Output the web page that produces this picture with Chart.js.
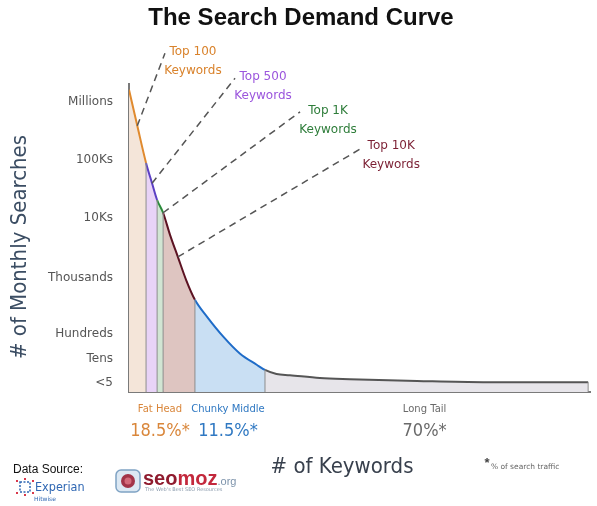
<!DOCTYPE html>
<html lang="en">
<head>
<meta charset="UTF-8">
<title>The Search Demand Curve</title>
<script src="https://cdn.jsdelivr.net/npm/chart.js"></script>
<style>
  body { margin: 0; background: #fff; }
</style>
</head>
<body>
<canvas id="demandChart" width="597" height="506"></canvas>
<script>
// curve: x = place along the keyword axis (0-100), y = search volume level
const curveX = [0, 1.8, 3.7, 5.0, 6.1, 7.4, 8.9, 10.6, 12.4, 14.3, 16.9, 20.5, 24.1, 27.7, 29.5, 32.0, 34.9, 41.4, 47.9, 62.5, 76.8, 99.6];
const curveY = [5.21, 4.59, 3.95, 3.60, 3.31, 3.09, 2.71, 2.33, 1.93, 1.59, 1.30, 0.95, 0.66, 0.47, 0.38, 0.31, 0.29, 0.24, 0.22, 0.19, 0.17, 0.17];

const segmentNames = ['Top 100', 'Top 500', 'Top 1K', 'Top 10K', 'Chunky Middle', 'Long Tail'];
const segmentEnds = [3.7, 6.1, 7.4, 14.3, 29.5, 99.6];
const segmentLine = ['#e08a2e', '#5b3fc4', '#2a8a3a', '#5c1222', '#1f6cc8', '#555555'];
const segmentFill = ['#f4e5d9', '#e8d3f7', '#d1e5d3', '#dec5c1', '#c9dff3', '#e7e5ea'];

const yTickValues = [0.15, 0.57, 1.0, 1.97, 3.0, 4.0, 5.0];
const yTickLabels = ['<5', 'Tens', 'Hundreds', 'Thousands', '10Ks', '100Ks', 'Millions'];

// callouts: anchor is an index into the curve, the leader line ends at the label
const calloutText = ['Top 100', 'Top 500', 'Top 1K', 'Top 10K'];
const calloutAnchor = [1, 3, 5, 7];
const calloutEndX = [7.8, 23.0, 37.1, 50.8];
const calloutEndY = [5.84, 5.41, 4.83, 4.22];
const calloutColor = ['#d9822b', '#9b55dd', '#2e7d3a', '#7b1f33'];

const regionNames = ['Fat Head', 'Chunky Middle', 'Long Tail'];
const regionShare = ['18.5%*', '11.5%*', '70%*'];
const regionEnds = [14.3, 29.5, 99.6];
const regionColor = ['#d9863a', '#2f78c2', '#6a6a6a'];

// which coloured piece a curve segment belongs to
const pieceOf = x => segmentEnds.findIndex(e => x < e - 1e-6);

const datasets = [];

// the whole curve as one smooth line, coloured and filled piece by piece
datasets.push({
    label: 'Search demand',
    data: curveX.map((x, i) => ({ x: x, y: curveY[i] })),
    borderWidth: 2, fill: 'origin', pointRadius: 0,
    cubicInterpolationMode: 'monotone', order: 3,
    borderColor: segmentLine[0], backgroundColor: segmentFill[0],
    segment: {
        borderColor: c => segmentLine[pieceOf(c.p0.parsed.x)],
        backgroundColor: c => segmentFill[pieceOf(c.p0.parsed.x)]
    }
});

// thin gray dividers between the pieces
segmentEnds.forEach(end => {
    const yv = curveY[curveX.indexOf(end)];
    datasets.push({
        data: [{ x: end, y: 0 }, { x: end, y: yv }],
        borderColor: '#8c8c8c', borderWidth: 1, pointRadius: 0, fill: false, order: 2
    });
});

// dashed leader lines
calloutText.forEach((t, i) => {
    const a = calloutAnchor[i];
    datasets.push({
        data: [{ x: curveX[a], y: curveY[a] }, { x: calloutEndX[i], y: calloutEndY[i] }],
        borderColor: '#555', borderWidth: 1.5, borderDash: [7, 5], pointRadius: 0,
        fill: false, clip: false, order: 1
    });
});

const textPlugin = {
    id: 'demandText',
    afterDraw(chart) {
        const ctx = chart.ctx;
        const xs = chart.scales.x, ys = chart.scales.y;
        ctx.save();
        ctx.textBaseline = 'middle';
        ctx.textAlign = 'center';

        ctx.fillStyle = '#111';
        ctx.font = 'bold 24px "Liberation Sans"';
        ctx.fillText('The Search Demand Curve', 301, 18);

        // y title
        ctx.save();
        ctx.translate(20, 247);
        ctx.rotate(-Math.PI / 2);
        ctx.fillStyle = '#3b4d63';
        ctx.font = '22px "DejaVu Sans Condensed"';
        ctx.fillText('# of Monthly Searches', 0, 0);
        ctx.restore();

        // callout labels
        ctx.font = '12px "DejaVu Sans"';
        calloutText.forEach((t, i) => {
            const px = xs.getPixelForValue(calloutEndX[i]) + 28;
            const py = ys.getPixelForValue(calloutEndY[i]);
            ctx.fillStyle = calloutColor[i];
            ctx.fillText(t, px, py - 1);
            ctx.fillText('Keywords', px, py + 18);
        });

        // region names and shares
        regionEnds.forEach((end, i) => {
            const start = i === 0 ? 0 : regionEnds[i - 1];
            const cx = (xs.getPixelForValue(start) + xs.getPixelForValue(end)) / 2 - 2;
            ctx.fillStyle = regionColor[i];
            ctx.font = '10px "DejaVu Sans"';
            ctx.fillText(regionNames[i], cx, 409);
            ctx.font = '18px "DejaVu Sans Condensed"';
            ctx.fillText(regionShare[i], cx, 431);
        });

        ctx.fillStyle = '#38404d';
        ctx.font = '22px "DejaVu Sans Condensed"';
        ctx.fillText('# of Keywords', 342, 467);

        // footnote
        ctx.fillStyle = '#444';
        ctx.font = 'bold 13px "Liberation Sans"';
        ctx.fillText('*', 487, 463);
        ctx.fillStyle = '#666';
        ctx.font = '7.5px "DejaVu Sans"';
        ctx.textAlign = 'left';
        ctx.fillText('% of search traffic', 491, 467);

        // data source
        ctx.fillStyle = '#111';
        ctx.font = '12px "Liberation Sans"';
        ctx.fillText('Data Source:', 13, 470);

        // experian mark
        ctx.strokeStyle = '#2f67b3';
        ctx.lineWidth = 1.5;
        ctx.setLineDash([2, 1.5]);
        ctx.strokeRect(20, 482, 10, 10);
        ctx.setLineDash([]);
        ctx.fillStyle = '#d8374a';
        [[17, 481], [33, 481], [17, 493], [33, 493], [25, 479], [25, 495]].forEach(p => {
            ctx.fillRect(p[0] - 1, p[1] - 1, 2, 2);
        });
        ctx.fillStyle = '#2f67b3';
        ctx.font = '12.5px "DejaVu Sans Condensed"';
        ctx.fillText('Experian', 35, 488);
        ctx.font = '6px "DejaVu Sans"';
        ctx.fillText('Hitwise', 34, 499);

        // seomoz mark
        ctx.fillStyle = '#dce8f3';
        ctx.strokeStyle = '#7fa3c4';
        ctx.lineWidth = 1.5;
        ctx.beginPath();
        ctx.roundRect(116, 470, 24, 22, 5);
        ctx.fill();
        ctx.stroke();
        ctx.fillStyle = '#a23448';
        ctx.beginPath();
        ctx.arc(128, 481, 7, 0, Math.PI * 2);
        ctx.fill();
        ctx.fillStyle = '#d36a7a';
        ctx.beginPath();
        ctx.arc(128, 481, 3.5, 0, Math.PI * 2);
        ctx.fill();
        ctx.font = 'bold 20px "Liberation Sans"';
        ctx.fillStyle = '#8f1b2e';
        ctx.fillText('seo', 143, 479);
        const w = ctx.measureText('seo').width;
        ctx.fillStyle = '#c3283c';
        ctx.fillText('moz', 143 + w, 479);
        const w2 = ctx.measureText('moz').width;
        ctx.fillStyle = '#7d93ab';
        ctx.font = '11px "Liberation Sans"';
        ctx.fillText('.org', 143 + w + w2, 482);
        ctx.fillStyle = '#8a9aac';
        ctx.font = '5px "DejaVu Sans"';
        ctx.fillText("The Web's Best SEO Resources", 145, 490);

        ctx.restore();
    }
};

new Chart(document.getElementById('demandChart'), {
    type: 'line',
    data: { datasets: datasets },
    options: {
        responsive: false,
        animation: false,
        layout: { padding: { top: 84, right: 7, left: 0, bottom: 0 } },
        plugins: { legend: { display: false }, tooltip: { enabled: false } },
        scales: {
            x: {
                type: 'linear', min: 0, max: 100, z: 1,
                grid: { display: false, drawTicks: false },
                ticks: { display: false },
                border: { color: '#7a7a7a', width: 2 },
                afterFit: s => { s.height = 114; }
            },
            y: {
                type: 'linear', min: 0, max: 5.31, z: 1,
                grid: { display: false, drawTicks: false },
                border: { color: '#7a7a7a', width: 2 },
                afterBuildTicks: s => { s.ticks = yTickValues.map(v => ({ value: v })); },
                ticks: {
                    padding: 16, color: '#555',
                    font: { family: 'DejaVu Sans', size: 12 },
                    callback: (v, i) => yTickLabels[i]
                },
                afterFit: s => { s.width = 129; }
            }
        }
    },
    plugins: [textPlugin]
});
</script>
</body>
</html>
